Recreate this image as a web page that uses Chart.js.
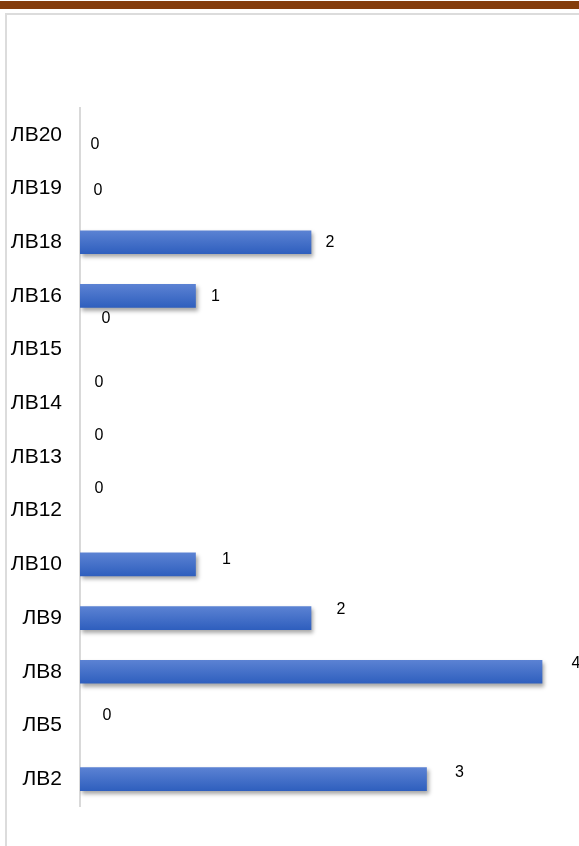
<!DOCTYPE html>
<html>
<head>
<meta charset="utf-8">
<script src="https://cdn.jsdelivr.net/npm/chart.js@4"></script>
<style>
  html, body { margin: 0; padding: 0; background: #fff; overflow: hidden; }
  body { width: 579px; height: 846px; position: relative; }
  #topbar { position: absolute; left: 0; top: 1px; width: 579px; height: 8px; background: #843C0C; }
  #frame { position: absolute; left: 5px; top: 13px; width: 700px; height: 900px; border: 2px solid #dcdcdc; box-sizing: border-box; }
  #c { position: absolute; left: 0; top: 0; }
</style>
</head>
<body>
<div id="topbar"></div>
<div id="frame"></div>
<canvas id="c" width="579" height="846"></canvas>
<script>
const categories = ['ЛВ20','ЛВ19','ЛВ18','ЛВ16','ЛВ15','ЛВ14','ЛВ13','ЛВ12','ЛВ10','ЛВ9','ЛВ8','ЛВ5','ЛВ2'];
const values = [0, 0, 2, 1, 0, 0, 0, 0, 1, 2, 4, 0, 3];

// label offsets (pixels) relative to bar end / bar centre, as placed in the original
const labelDx = [15, 18, 19, 20, 26, 19, 19, 19, 31, 30, 34, 27, 33];
const labelDy = [10, 2, 0, 1, -31, -21, -21, -22, -5, -8, -8, -10, -7];

const shadowPlugin = {
  id: 'barShadow',
  beforeDatasetsDraw(chart) {
    const ctx = chart.ctx;
    ctx.save();
    ctx.shadowColor = 'rgba(0,0,0,0.35)';
    ctx.shadowBlur = 4;
    ctx.shadowOffsetX = 2;
    ctx.shadowOffsetY = 3;
  },
  afterDatasetsDraw(chart) {
    chart.ctx.restore();
  }
};

const labelPlugin = {
  id: 'valueLabels',
  afterDatasetsDraw(chart) {
    const ctx = chart.ctx;
    const meta = chart.getDatasetMeta(0);
    const xs = chart.scales.x;
    ctx.save();
    ctx.fillStyle = '#000';
    ctx.font = '16px "Liberation Sans", Arial, sans-serif';
    ctx.textAlign = 'center';
    ctx.textBaseline = 'middle';
    meta.data.forEach((bar, i) => {
      const v = values[i];
      const x = xs.getPixelForValue(v) + labelDx[i];
      const y = bar.y + labelDy[i];
      ctx.fillText(String(v), x, y);
    });
    ctx.restore();
  }
};

new Chart(document.getElementById('c'), {
  type: 'bar',
  data: {
    labels: categories,
    datasets: [{
      data: values,
      barThickness: 23,
      borderWidth: 0,
      backgroundColor: (c) => {
        if (!c.raw) return 'rgba(0,0,0,0)';
        const chart = c.chart;
        const ys = chart.scales && chart.scales.y;
        if (!chart.chartArea || !ys) return '#4472C4';
        const yc = ys.getPixelForValue(c.dataIndex);
        if (!isFinite(yc)) return '#4472C4';
        const g = chart.ctx.createLinearGradient(0, yc - 11.5, 0, yc + 11.5);
        g.addColorStop(0, '#5b82d3');
        g.addColorStop(1, '#2f5fbe');
        return g;
      }
    }]
  },
  options: {
    indexAxis: 'y',
    responsive: false,
    animation: false,
    layout: { padding: { top: 108, bottom: 40, left: 0, right: 0 } },
    plugins: { legend: { display: false }, tooltip: { enabled: false } },
    scales: {
      x: {
        display: false,
        min: 0,
        max: 4.32
      },
      y: {
        afterFit(scale) { scale.width = 80; },
        grid: { display: false, drawTicks: false },
        border: { display: true, color: '#d9d9d9', width: 2 },
        ticks: {
          color: '#000',
          padding: 18,
          font: { family: '"Liberation Sans", Arial, sans-serif', size: 21 }
        }
      }
    }
  },
  plugins: [shadowPlugin, labelPlugin]
});
</script>
</body>
</html>
